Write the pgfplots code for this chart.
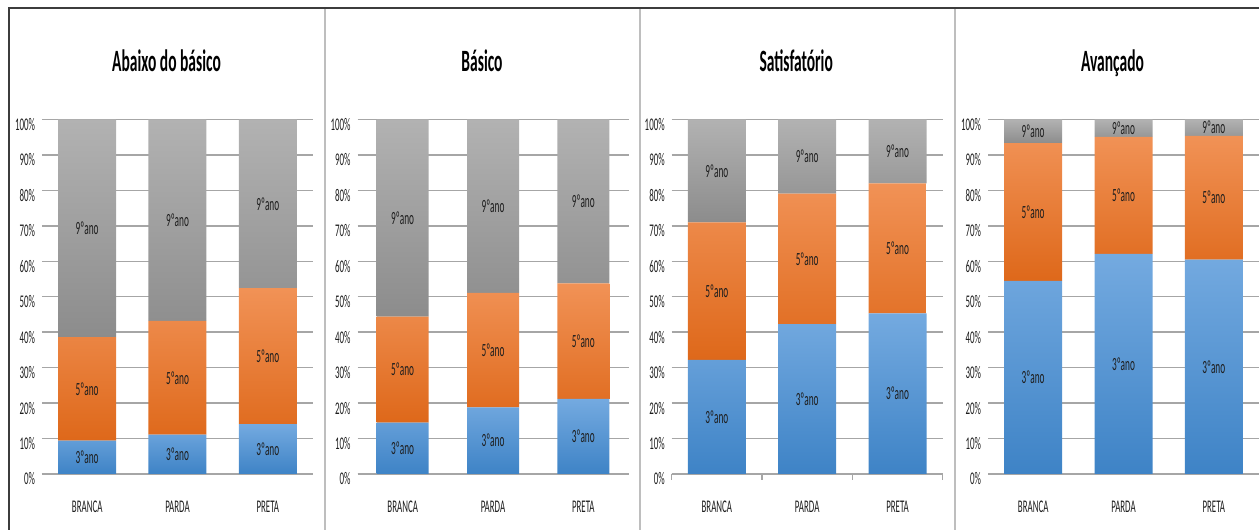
\documentclass[border=0pt]{standalone}
\usepackage{pgfplots}
\pgfplotsset{compat=1.18}
\usepackage{fontspec}
\setmainfont{Carlito}[FakeStretch=0.5]
\definecolor{gridc}{RGB}{166,166,166}
\definecolor{blueT}{RGB}{116,170,224}
\definecolor{blueB}{RGB}{62,131,198}
\definecolor{orT}{RGB}{241,146,86}
\definecolor{orB}{RGB}{222,104,26}
\definecolor{grT}{RGB}{178,178,178}
\definecolor{grB}{RGB}{140,140,140}
\definecolor{frameD}{RGB}{60,60,60}
\definecolor{frameL}{RGB}{190,190,190}
\definecolor{txt}{RGB}{30,30,30}

\pgfplotsset{
  panel/.style={
    at={(#1,28pt)}, anchor=south west,
    scale only axis, width=135.5pt, height=177.25pt,
    xmin=-0.5, xmax=2.5, ymin=0, ymax=100,
  },
  barpanel/.style={
    panel=#1,
    ybar stacked, bar width=29pt,
    axis x line*=bottom, axis y line*=left,
    x axis line style={draw=gridc, line width=0.75pt},
    y axis line style={draw=none},
    ymajorgrids, grid style={line width=0.75pt, draw=gridc},
    xtick={0,1,2}, xticklabels={BRANCA,PARDA,PRETA},
    ytick={0,10,...,100},
    yticklabels={0\%,10\%,20\%,30\%,40\%,50\%,60\%,70\%,80\%,90\%,100\%},
    major tick length=0pt,
    tick label style={font=\fontsize{8.9}{10}\selectfont, text=txt},
    xticklabel style={anchor=base, yshift=-19.5pt},
    yticklabel style={yshift=-2.5pt},
    title style={at={(0.5,1)}, anchor=base, yshift=17.75pt, xshift=-5.5pt,
      font=\bfseries\fontsize{15.5}{18}\selectfont},
  },
  labelpanel/.style={
    panel=#1, hide axis,
  },
  seglab/.style={draw=none, mark=none, nodes near coords, point meta=explicit symbolic,
    every node near coord/.style={anchor=center, text=txt, font=\fontsize{9.3}{10}\selectfont}},
  s3/.style={draw=none, top color=blueT, bottom color=blueB},
  s5/.style={draw=none, top color=orT, bottom color=orB},
  s9/.style={draw=none, top color=grT, bottom color=grB},
}

\begin{document}
\begin{tikzpicture}
\path[use as bounding box] (0,0) rectangle (629.5pt,265pt);

% ---------- Panel 1: Abaixo do básico
\begin{axis}[barpanel=21pt, title={Abaixo do básico}]
\addplot[s3] coordinates {(0,9.4) (1,11.1) (2,14.1)};
\addplot[s5] coordinates {(0,29.2) (1,32.1) (2,38.3)};
\addplot[s9] coordinates {(0,61.4) (1,56.8) (2,47.6)};
\end{axis}
\begin{axis}[labelpanel=21pt]
\addplot[seglab] coordinates {(0,4.7)[3ºano] (1,5.55)[3ºano] (2,7.05)[3ºano]
  (0,24.0)[5ºano] (1,27.15)[5ºano] (2,33.25)[5ºano]
  (0,69.3)[9ºano] (1,71.6)[9ºano] (2,76.2)[9ºano]};
\end{axis}

% ---------- Panel 2: Básico
\begin{axis}[barpanel=178.75pt, bar width=26pt, title={Básico}]
\addplot[s3] coordinates {(0,14.5) (1,18.8) (2,21.2)};
\addplot[s5] coordinates {(0,29.9) (1,32.3) (2,32.6)};
\addplot[s9] coordinates {(0,55.6) (1,48.9) (2,46.2)};
\end{axis}
\begin{axis}[labelpanel=178.75pt]
\addplot[seglab] coordinates {(0,7.25)[3ºano] (1,9.4)[3ºano] (2,10.6)[3ºano]
  (0,29.45)[5ºano] (1,34.95)[5ºano] (2,37.5)[5ºano]
  (0,72.2)[9ºano] (1,75.55)[9ºano] (2,76.9)[9ºano]};
\end{axis}

% ---------- Panel 3: Satisfatório
\begin{axis}[barpanel=335.85pt, title={Satisfatório},
  extra x ticks={-0.5,0.5,1.5,2.5}, extra x tick labels={},
  extra x tick style={major tick length=3pt, tick align=outside,
    major tick style={draw=gridc, line width=0.75pt}, grid=none}]
\addplot[s3] coordinates {(0,32.2) (1,42.3) (2,45.3)};
\addplot[s5] coordinates {(0,38.8) (1,36.8) (2,36.7)};
\addplot[s9] coordinates {(0,29.0) (1,20.9) (2,18.0)};
\end{axis}
\begin{axis}[labelpanel=335.85pt]
\addplot[seglab] coordinates {(0,16.1)[3ºano] (1,21.15)[3ºano] (2,22.65)[3ºano]
  (0,51.6)[5ºano] (1,60.7)[5ºano] (2,63.65)[5ºano]
  (0,85.5)[9ºano] (1,89.55)[9ºano] (2,91.0)[9ºano]};
\end{axis}

% ---------- Panel 4: Avançado
\begin{axis}[barpanel=494pt, title={Avançado}]
\addplot[s3] coordinates {(0,54.5) (1,62.1) (2,60.5)};
\addplot[s5] coordinates {(0,38.8) (1,33.0) (2,34.9)};
\addplot[s9] coordinates {(0,6.7) (1,4.9) (2,4.6)};
\end{axis}
\begin{axis}[labelpanel=494pt]
\addplot[seglab] coordinates {(0,27.25)[3ºano] (1,31.05)[3ºano] (2,30.25)[3ºano]
  (0,73.9)[5ºano] (1,78.6)[5ºano] (2,77.95)[5ºano]
  (0,96.65)[9ºano] (1,97.55)[9ºano] (2,97.7)[9ºano]};
\end{axis}

% ---------- frame
\draw[frameL, line width=0.75pt] (162.5pt,0) -- (162.5pt,261pt);
\draw[frameL, line width=0.75pt] (320pt,0) -- (320pt,261pt);
\draw[frameL, line width=0.75pt] (477.5pt,0) -- (477.5pt,261pt);
\draw[frameD, line width=1pt] (4.5pt,0) -- (4.5pt,261pt) -- (629.5pt,261pt);
\end{tikzpicture}
\end{document}
